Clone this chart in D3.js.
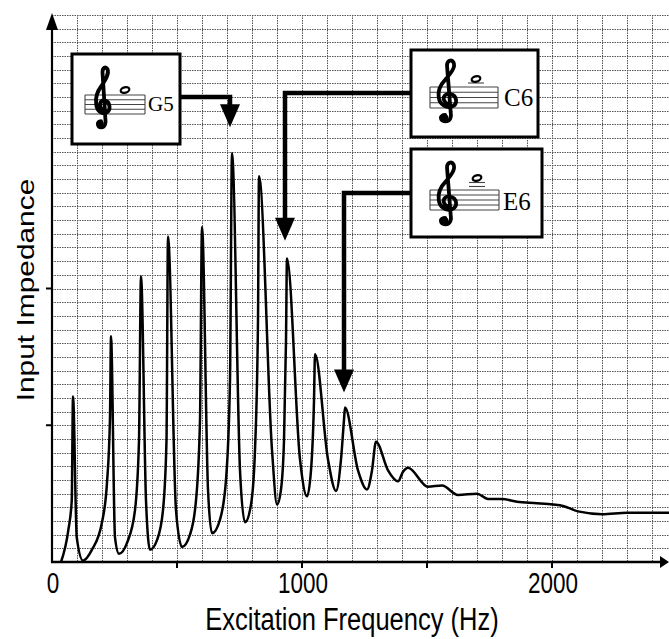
<!DOCTYPE html>
<html>
<head>
<meta charset="utf-8">
<script src="https://cdn.jsdelivr.net/npm/d3@7"></script>
<style>
  body { margin: 0; background: #fff; }
  svg { display: block; }
  .ax text { font-family: "Liberation Sans", Arial, sans-serif; }
</style>
</head>
<body>
<svg id="chart"></svg>
<script>
var width = 669, height = 639;

// impedance curve (Hz, arbitrary units)
var freqHz = [36, 65, 79, 84, 99, 124, 160, 200, 220, 232, 236, 252, 268, 300, 332, 348, 356, 376, 392,
    420, 444, 458, 464, 496, 520, 552, 576, 592, 600, 624, 640, 672, 696, 712, 720, 752, 772,
    796, 812, 824, 828, 880, 900, 916, 928, 936, 940, 992, 1020, 1036, 1048, 1052, 1104, 1136,
    1156, 1168, 1172, 1224, 1260, 1280, 1296, 1344, 1384, 1404, 1424, 1504, 1560, 1624, 1700,
    1744, 1800, 1860, 1940, 2004, 2044, 2104, 2200, 2300, 2468];
var impedance = [0, 2.3, 4.5, 12.1, 1.8, 0.1, 0.9, 2.9, 5.8, 10.6, 16.5, 1.8, 0.6, 1.4, 3.8, 8.9, 20.9, 4.5, 0.9,
    1.6, 3.8, 8.9, 23.8, 3.8, 1.1, 2.0, 4.5, 10.4, 24.5, 5.3, 2.1, 3.1, 6.0, 13.3, 29.9, 6.7, 2.9,
    4.2, 8.2, 17.7, 28.2, 8.2, 4.2, 5.3, 8.9, 16.2, 22.2, 7.5, 4.8, 6.7, 11.8, 15.2, 7.5, 5.2,
    7.5, 10.4, 11.3, 6.7, 5.3, 6.7, 8.8, 6.7, 5.9, 6.6, 6.9, 5.5, 5.6, 4.9, 5.0,
    4.6, 4.6, 4.4, 4.3, 4.2, 4.1, 3.7, 3.5, 3.6, 3.6];

var xTicks = [0, 500, 1000, 1500, 2000];
var xTickLabels = ['0', '', '1000', '', '2000'];
var yTicks = [10, 20];

// notes marked on the curve
var noteNames = ['G5', 'C6', 'E6'];
var noteFreq = [712, 932, 1168];
var noteTip = [31.8, 23.5, 12.4];

// box layout for each note card
var cards = [
    { x: 72, y: 54, w: 108, h: 90, side: 'right', armY: 97, staff: [85, 145, 95, 4.75], clef: [94, 66, 17, 63], note: [125, 90], ledger: [], tx: 148, ty: 111, fs: 21 },
    { x: 411, y: 50, w: 127, h: 87, side: 'left', armY: 93, staff: [430, 498, 87, 5.25], clef: [436, 59, 22, 64], note: [476, 79], ledger: [83], tx: 504, ty: 106, fs: 25 },
    { x: 411, y: 149, w: 131, h: 88, side: 'left', armY: 193, staff: [430, 499, 190, 5], clef: [436, 161, 22, 65], note: [477, 178], ledger: [182.5, 186.5], tx: 503, ty: 210, fs: 25 }
];

var svg = d3.select('#chart').attr('width', width).attr('height', height);

var x = d3.scaleLinear().domain([0, 2470]).range([52, 669.5]);
var y = d3.scaleLinear().domain([0, 40]).range([562, 15]);

// dotted grid
var grid = svg.append('g').attr('stroke', '#555').attr('stroke-width', 1).attr('stroke-dasharray', '1.5,1');
grid.selectAll('line.h').data(d3.range(1, 41)).enter().append('line')
    .attr('x1', x(0)).attr('x2', width)
    .attr('y1', d => Math.round(y(d)) + 0.5).attr('y2', d => Math.round(y(d)) + 0.5);
grid.selectAll('line.v').data(d3.range(100, 2500, 100)).enter().append('line')
    .attr('y1', y(40)).attr('y2', y(0))
    .attr('x1', d => Math.round(x(d)) + 0.5).attr('x2', d => Math.round(x(d)) + 0.5);

// curve
var pts = freqHz.map((f, i) => [f, impedance[i]]);
svg.append('path')
    .datum(pts)
    .attr('fill', 'none')
    .attr('stroke', '#000')
    .attr('stroke-width', 2.5)
    .attr('stroke-linejoin', 'round')
    .attr('d', d3.line().x(d => x(d[0])).y(d => y(d[1])).curve(d3.curveMonotoneX));

// axes with arrows
var ax = svg.append('g').attr('class', 'ax');
ax.append('line').attr('x1', x(0)).attr('x2', x(0)).attr('y1', y(0) + 1).attr('y2', 24)
    .attr('stroke', '#000').attr('stroke-width', 2.2);
ax.append('path').attr('d', `M${x(0) - 6},30 L${x(0)},13 L${x(0) + 6},30 Z`).attr('fill', '#000');
ax.append('line').attr('x1', x(0) - 1).attr('x2', 662).attr('y1', y(0)).attr('y2', y(0))
    .attr('stroke', '#000').attr('stroke-width', 2.4);
ax.append('path').attr('d', `M660,${y(0) - 6} L669,${y(0)} L660,${y(0) + 6} Z`).attr('fill', '#000');

ax.selectAll('line.xt').data(xTicks.slice(1)).enter().append('line')
    .attr('x1', d => x(d)).attr('x2', d => x(d))
    .attr('y1', y(0)).attr('y2', y(0) + 6)
    .attr('stroke', '#000').attr('stroke-width', 2);
ax.selectAll('text.xl').data(xTicks).enter().append('text')
    .attr('transform', d => `translate(${x(d) + 1},${y(0) + 31}) scale(1,1.3)`)
    .attr('text-anchor', 'middle')
    .attr('font-size', 22.5)
    .text((d, i) => xTickLabels[i]);
ax.selectAll('line.yt').data(yTicks).enter().append('line')
    .attr('x1', x(0) - 6).attr('x2', x(0))
    .attr('y1', d => y(d)).attr('y2', d => y(d))
    .attr('stroke', '#000').attr('stroke-width', 2);

ax.append('text')
    .attr('transform', `translate(352,630) scale(1,1.25)`)
    .attr('text-anchor', 'middle')
    .attr('font-size', 25.5)
    .text('Excitation Frequency (Hz)');
ax.append('text')
    .attr('transform', `translate(34,290) scale(1,1.3) rotate(-90)`)
    .attr('text-anchor', 'middle')
    .attr('font-size', 23)
    .text('Input Impedance');

// treble clef drawn in a 24 x 80 box
var clefPath = 'M10 70 C4 70 4 78 10 78 C16 78 17 72 16 66 L12 8 C12 2 17 0 19 4 C22 10 16 18 10 26 ' +
    'C4 33 2 40 3 48 C4 58 12 62 18 59 C24 56 23 46 16 44 C10 42 7 48 9 52 C10 55 13 56 14 56';

// arrows and cards
cards.forEach(function (c, i) {
    var tx = x(noteFreq[i]), ty = y(noteTip[i]);
    var x0 = c.side === 'right' ? c.x + c.w : c.x;
    svg.append('path')
        .attr('d', `M${x0},${c.armY} L${tx},${c.armY} L${tx},${ty - 20}`)
        .attr('fill', 'none').attr('stroke', '#000').attr('stroke-width', 4.5);
    svg.append('path')
        .attr('d', `M${tx - 10},${ty - 23} L${tx + 10},${ty - 23} L${tx},${ty} Z`)
        .attr('fill', '#000');

    var g = svg.append('g');
    g.append('rect').attr('x', c.x).attr('y', c.y).attr('width', c.w).attr('height', c.h)
        .attr('fill', '#fff').attr('stroke', '#000').attr('stroke-width', 3);
    var s = c.staff;
    for (var k = 0; k < 5; k++) {
        g.append('line').attr('x1', s[0]).attr('x2', s[1])
            .attr('y1', s[2] + k * s[3]).attr('y2', s[2] + k * s[3])
            .attr('stroke', '#444').attr('stroke-width', 1.1);
    }
    [s[0], s[1]].forEach(function (sx) {
        g.append('line').attr('x1', sx).attr('x2', sx).attr('y1', s[2]).attr('y2', s[2] + 4 * s[3])
            .attr('stroke', '#444').attr('stroke-width', 1.1);
    });
    c.ledger.forEach(function (ly) {
        g.append('line').attr('x1', c.note[0] - 8).attr('x2', c.note[0] + 8).attr('y1', ly).attr('y2', ly)
            .attr('stroke', '#444').attr('stroke-width', 1.1);
    });
    var cl = c.clef;
    var cg = g.append('g').attr('transform', `translate(${cl[0]},${cl[1]}) scale(${cl[2] / 24},${cl[3] / 80})`);
    cg.append('path').attr('d', clefPath).attr('fill', 'none').attr('stroke', '#000')
        .attr('stroke-width', 3.8).attr('stroke-linecap', 'round').attr('vector-effect', 'non-scaling-stroke');
    cg.append('ellipse').attr('cx', 8.5).attr('cy', 73).attr('rx', 5).attr('ry', 4).attr('fill', '#000');
    g.append('ellipse').attr('cx', c.note[0]).attr('cy', c.note[1]).attr('rx', 4.4).attr('ry', 2.7)
        .attr('transform', `rotate(-15,${c.note[0]},${c.note[1]})`)
        .attr('fill', 'none').attr('stroke', '#000').attr('stroke-width', 2.2);
    g.append('text').attr('x', c.tx).attr('y', c.ty)
        .attr('font-family', '"Liberation Serif", "Times New Roman", serif')
        .attr('font-size', c.fs)
        .text(noteNames[i]);
});
</script>
</body>
</html>
